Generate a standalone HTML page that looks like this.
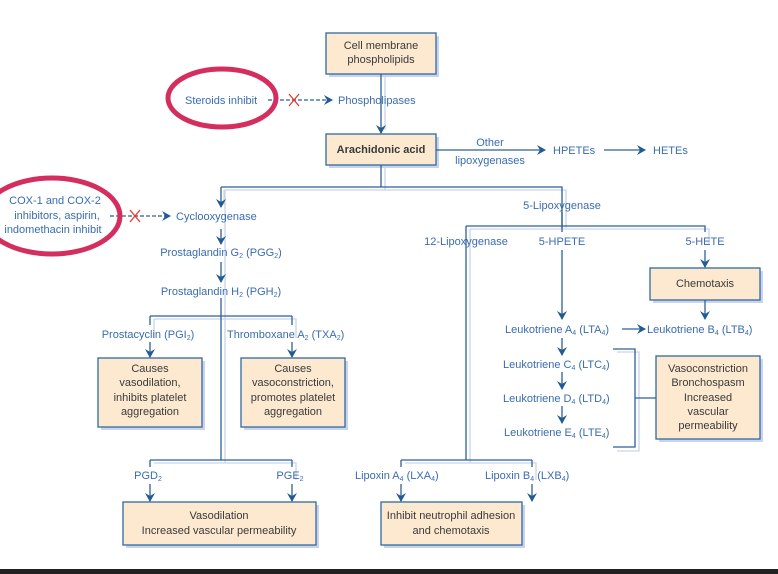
<!DOCTYPE html>
<html><head><meta charset="utf-8"><style>
html,body{margin:0;padding:0;background:#fff;}
svg{display:block;font-family:"Liberation Sans",sans-serif;}
.t{fill:#3a6cb0;font-size:11px;}
.b{fill:#3a3a3a;font-size:11px;}
.l{stroke:#2d6198;stroke-width:1.3;fill:none;}
.s{stroke:#c9d3ea;stroke-width:1.3;fill:none;}
.box{fill:#fce9d0;stroke:#2d6aa6;stroke-width:1.3;}
.sh{fill:#c9d3ea;}
</style></head><body>
<svg width="778" height="574" viewBox="0 0 778 574">
<defs>
<marker id="a" markerWidth="10" markerHeight="10" refX="8" refY="5" orient="auto" markerUnits="userSpaceOnUse">
<path d="M0,0 L9,5 L0,10 L3,5 Z" fill="#245a92"/></marker>
</defs>
<g class="sh">
<rect x="329" y="36" width="110" height="41"/>
<rect x="329" y="137" width="110" height="31"/>
<rect x="101" y="361" width="104" height="69"/>
<rect x="244" y="361" width="104" height="69"/>
<rect x="653" y="271" width="110" height="32"/>
<rect x="659" y="359" width="104" height="83"/>
<rect x="126" y="505" width="193" height="43"/>
<rect x="384" y="505" width="141" height="43"/>
</g>
<g class="s">
<path d="M385,74 V130"/><path d="M385,165 V190 H566 V228"/><path d="M224,190 H385"/><path d="M224,190 V205"/>
<path d="M225,190 V463"/><path d="M154,319 H296 V338"/><path d="M154,319 V338"/>
<path d="M154,463 H296 V480"/><path d="M470,229 V463"/><path d="M470,229 H709 V245"/>
<path d="M405,463 H536 V480"/><path d="M617,352 H639 V451 H617"/>
</g>
<rect class="box" x="326" y="33" width="110" height="41"/>
<text class="b" x="381" y="49" text-anchor="middle">Cell membrane</text>
<text class="b" x="381" y="63" text-anchor="middle">phospholipids</text>
<rect class="box" x="326" y="134" width="110" height="31"/>
<text class="b" x="381" y="153" text-anchor="middle" font-weight="bold">Arachidonic acid</text>
<rect class="box" x="98" y="358" width="104" height="69"/>
<text class="b" text-anchor="middle" x="150" y="372">Causes</text>
<text class="b" text-anchor="middle" x="150" y="386">vasodilation,</text>
<text class="b" text-anchor="middle" x="150" y="401">inhibits platelet</text>
<text class="b" text-anchor="middle" x="150" y="415">aggregation</text>
<rect class="box" x="241" y="358" width="104" height="69"/>
<text class="b" text-anchor="middle" x="293" y="372">Causes</text>
<text class="b" text-anchor="middle" x="293" y="386">vasoconstriction,</text>
<text class="b" text-anchor="middle" x="293" y="401">promotes platelet</text>
<text class="b" text-anchor="middle" x="293" y="415">aggregation</text>
<rect class="box" x="650" y="268" width="110" height="32"/>
<text class="b" text-anchor="middle" x="705" y="287">Chemotaxis</text>
<rect class="box" x="656" y="356" width="104" height="83"/>
<text class="b" text-anchor="middle" x="708" y="372">Vasoconstriction</text>
<text class="b" text-anchor="middle" x="708" y="386">Bronchospasm</text>
<text class="b" text-anchor="middle" x="708" y="401">Increased</text>
<text class="b" text-anchor="middle" x="708" y="415">vascular</text>
<text class="b" text-anchor="middle" x="708" y="429">permeability</text>
<rect class="box" x="123" y="502" width="193" height="43"/>
<text class="b" text-anchor="middle" x="219" y="519">Vasodilation</text>
<text class="b" text-anchor="middle" x="219" y="534">Increased vascular permeability</text>
<rect class="box" x="381" y="502" width="141" height="43"/>
<text class="b" text-anchor="middle" x="451" y="519">Inhibit neutrophil adhesion</text>
<text class="b" text-anchor="middle" x="451" y="534">and chemotaxis</text>
<g class="l">
<path d="M381,74 V133" marker-end="url(#a)"/>
<path d="M381,165 V187 H562 V228"/>
<path d="M221,187 H381"/>
<path d="M221,187 V207" marker-end="url(#a)"/>
<path d="M436,150 H545" marker-end="url(#a)"/>
<path d="M604,150 H645" marker-end="url(#a)"/>
<path d="M221,229 V244" marker-end="url(#a)"/>
<path d="M221,262 V282" marker-end="url(#a)"/>
<path d="M221,298 V460"/>
<path d="M150,316 H292"/>
<path d="M150,316 V325"/><path d="M292,316 V325"/>
<path d="M150,342 V357" marker-end="url(#a)"/>
<path d="M292,342 V357" marker-end="url(#a)"/>
<path d="M150,460 H292"/><path d="M150,460 V467"/><path d="M292,460 V467"/>
<path d="M150,484 V501" marker-end="url(#a)"/>
<path d="M292,484 V501" marker-end="url(#a)"/>
<path d="M466,226 H705 V232"/>
<path d="M466,226 V460"/>
<path d="M562,212 V232"/>
<path d="M562,250 V319" marker-end="url(#a)"/>
<path d="M705,250 V267" marker-end="url(#a)"/>
<path d="M705,300 V319" marker-end="url(#a)"/>
<path d="M622,329 H645" marker-end="url(#a)"/>
<path d="M562,338 V355" marker-end="url(#a)"/>
<path d="M562,372 V389" marker-end="url(#a)"/>
<path d="M562,406 V423" marker-end="url(#a)"/>
<path d="M613,349 H635 V447 H613"/>
<path d="M635,398 H656"/>
<path d="M401,460 H532"/><path d="M401,460 V467"/><path d="M532,460 V467"/>
<path d="M401,484 V501" marker-end="url(#a)"/>
<path d="M532,484 V501" marker-end="url(#a)"/>
<path d="M268,100 H332" stroke-dasharray="4,2" marker-end="url(#a)"/>
<path d="M110,216 H170" stroke-dasharray="4,2" marker-end="url(#a)"/>
</g>
<g stroke="#e8382c" stroke-width="1.3">
<path d="M289,94 L299,106 M299,94 L289,106"/>
<path d="M130,210 L140,222 M140,210 L130,222"/>
</g>
<text class="t" x="185" y="104">Steroids inhibit</text>
<text class="t" x="338" y="104">Phospholipases</text>
<text class="t" x="490" y="146" text-anchor="middle">Other</text>
<text class="t" x="490" y="164" text-anchor="middle">lipoxygenases</text>
<text class="t" x="553" y="154">HPETEs</text>
<text class="t" x="653" y="154">HETEs</text>
<text class="t" x="55" y="204" text-anchor="middle">COX-1 and COX-2</text>
<text class="t" x="57" y="219" text-anchor="middle">inhibitors, aspirin,</text>
<text class="t" x="53" y="233" text-anchor="middle">indomethacin inhibit</text>
<text class="t" x="176" y="220">Cyclooxygenase</text>
<text class="t" x="221" y="256" text-anchor="middle">Prostaglandin G<tspan font-size="7" dy="2">2</tspan><tspan dy="-2"> (PGG</tspan><tspan font-size="7" dy="2">2</tspan><tspan dy="-2">)</tspan></text>
<text class="t" x="221" y="295" text-anchor="middle">Prostaglandin H<tspan font-size="7" dy="2">2</tspan><tspan dy="-2"> (PGH</tspan><tspan font-size="7" dy="2">2</tspan><tspan dy="-2">)</tspan></text>
<text class="t" x="148" y="338" text-anchor="middle">Prostacyclin (PGI<tspan font-size="7" dy="2">2</tspan><tspan dy="-2">)</tspan></text>
<text class="t" x="227" y="338">Thromboxane A<tspan font-size="7" dy="2">2</tspan><tspan dy="-2"> (TXA</tspan><tspan font-size="7" dy="2">2</tspan><tspan dy="-2">)</tspan></text>
<text class="t" x="148" y="479" text-anchor="middle">PGD<tspan font-size="7" dy="2">2</tspan></text>
<text class="t" x="290" y="479" text-anchor="middle">PGE<tspan font-size="7" dy="2">2</tspan></text>
<text class="t" x="562" y="209" text-anchor="middle">5-Lipoxygenase</text>
<text class="t" x="466" y="245" text-anchor="middle">12-Lipoxygenase</text>
<text class="t" x="562" y="245" text-anchor="middle">5-HPETE</text>
<text class="t" x="705" y="245" text-anchor="middle">5-HETE</text>
<text class="t" x="505" y="333">Leukotriene A<tspan font-size="7" dy="2">4</tspan><tspan dy="-2"> (LTA</tspan><tspan font-size="7" dy="2">4</tspan><tspan dy="-2">)</tspan></text>
<text class="t" x="647" y="333">Leukotriene B<tspan font-size="7" dy="2">4</tspan><tspan dy="-2"> (LTB</tspan><tspan font-size="7" dy="2">4</tspan><tspan dy="-2">)</tspan></text>
<text class="t" x="503" y="368">Leukotriene C<tspan font-size="7" dy="2">4</tspan><tspan dy="-2"> (LTC</tspan><tspan font-size="7" dy="2">4</tspan><tspan dy="-2">)</tspan></text>
<text class="t" x="503" y="402">Leukotriene D<tspan font-size="7" dy="2">4</tspan><tspan dy="-2"> (LTD</tspan><tspan font-size="7" dy="2">4</tspan><tspan dy="-2">)</tspan></text>
<text class="t" x="504" y="436">Leukotriene E<tspan font-size="7" dy="2">4</tspan><tspan dy="-2"> (LTE</tspan><tspan font-size="7" dy="2">4</tspan><tspan dy="-2">)</tspan></text>
<text class="t" x="355" y="479">Lipoxin A<tspan font-size="7" dy="2">4</tspan><tspan dy="-2"> (LXA</tspan><tspan font-size="7" dy="2">4</tspan><tspan dy="-2">)</tspan></text>
<text class="t" x="485" y="479">Lipoxin B<tspan font-size="7" dy="2">4</tspan><tspan dy="-2"> (LXB</tspan><tspan font-size="7" dy="2">4</tspan><tspan dy="-2">)</tspan></text>
<ellipse cx="222" cy="98" rx="54" ry="29" fill="none" stroke="#d42e5e" stroke-width="5"/>
<ellipse cx="52" cy="216" rx="68" ry="38" fill="none" stroke="#d42e5e" stroke-width="5"/>
<rect x="0" y="569" width="778" height="5" fill="#222"/>
</svg>
</body></html>
